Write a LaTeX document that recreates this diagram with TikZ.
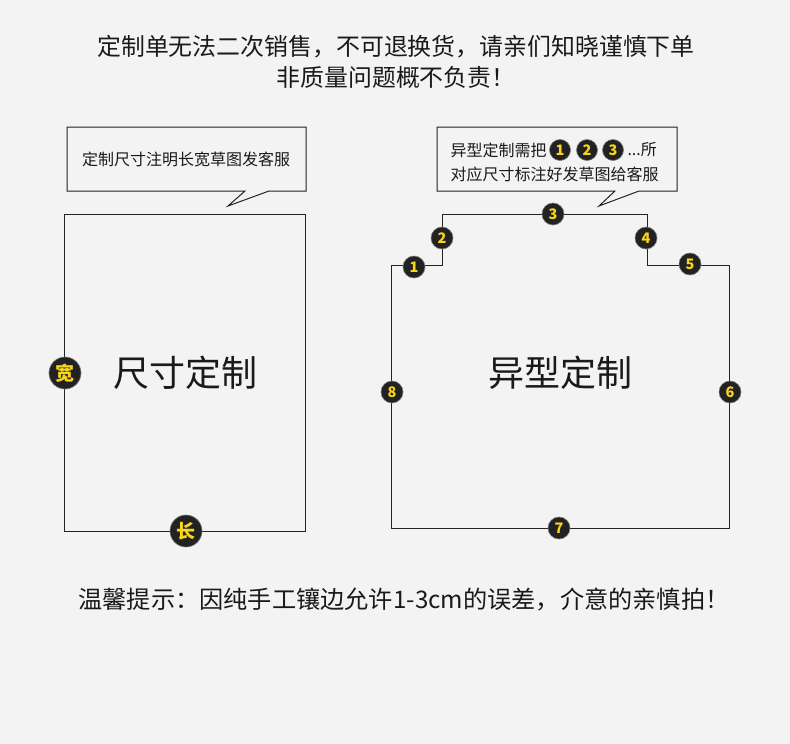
\documentclass[tikz,border=0pt]{standalone}
\usepackage{fontspec}
\setmainfont{Noto Sans CJK SC}
\newfontfamily\cjk{Noto Sans CJK SC}
\definecolor{bg}{HTML}{F3F3F3}
\definecolor{ink}{HTML}{222222}
\definecolor{gold}{HTML}{F7D51D}
\definecolor{txt}{HTML}{1A1A1A}
\begin{document}
\begin{tikzpicture}[x=1pt,y=-1pt,
  frame/.style={draw=ink,line width=1pt},
  badge/.style={circle,fill=ink,draw=ink!60,line width=0.6pt,text=gold,inner sep=0pt,minimum size=#1,font=\cjk\bfseries\fontsize{14.5}{14.5}\selectfont},
  bigbadge/.style={circle,fill=ink,draw=ink!60,line width=0.6pt,text=gold,inner sep=0pt,minimum size=32pt,font=\cjk\bfseries\fontsize{19}{19}\selectfont},
  title/.style={text=txt,font=\cjk\fontsize{23.9}{30}\selectfont,align=center},
  small/.style={text=txt,font=\cjk\fontsize{16}{23}\selectfont,align=left},
  big/.style={text=txt,font=\cjk\fontsize{36}{36}\selectfont}]
\fill[bg] (0,0) rectangle (790,744);
\useasboundingbox (0,0) rectangle (790,744);

% title
\node[title] (t1) at (396,47) {定制单无法二次销售，不可退换货，请亲们知晓谨慎下单};
\node[title] (t2) at (396,77) {非质量问题概不负责！};

% left callout
\draw[frame,fill=bg] (67,127) -- (306,127) -- (306,191) -- (269,191) -- (228,206) -- (245,191) -- (67,191) -- cycle;
\node[small] (c1) at (186,159) {定制尺寸注明长宽草图发客服};

% left rect
\coordinate (la) at (64,214);
\coordinate (lb) at (305,531);
\draw[frame] (la) rectangle (lb);
\node[big] (lt) at (185,373) {尺寸定制};
\node[bigbadge] (kuan) at (65,373) {宽};
\node[bigbadge] (chang) at (186,531) {长};

% right callout
\draw[frame,fill=bg] (437,127) -- (677,127) -- (677,191) -- (639,191) -- (599,206) -- (615,191) -- (437,191) -- cycle;
\node[small,anchor=west] (c2a) at (447,150) {异型定制需把};
\node[badge=21pt] (s1) at (560,150) {1};
\node[badge=21pt] (s2) at (587,150) {2};
\node[badge=21pt] (s3) at (613,150) {3};
\node[small,anchor=west] (c2b) at (624,150) {...所};
\node[small,anchor=west] (c2c) at (447,174) {对应尺寸标注好发草图给客服};

% irregular shape
\coordinate (p1) at (391.5,265);
\coordinate (p2) at (442,265);
\coordinate (p3) at (442,214);
\coordinate (p4) at (647,214);
\coordinate (p5) at (647,265);
\coordinate (p6) at (729,265);
\coordinate (p7) at (729,528);
\coordinate (p8) at (391.5,528);
\draw[frame] (p1) -- (p2) -- (p3) -- (p4) -- (p5) -- (p6) -- (p7) -- (p8) -- cycle;
\node[big] (rt) at (560,373) {异型定制};
\node[badge=22pt] (n1) at (414,267) {1};
\node[badge=22pt] (n2) at (442,238) {2};
\node[badge=22pt] (n3) at (553,214) {3};
\node[badge=22pt] (n4) at (646,238) {4};
\node[badge=22pt] (n5) at (690,264) {5};
\node[badge=22pt] (n6) at (730,392) {6};
\node[badge=22pt] (n7) at (559,528) {7};
\node[badge=22pt] (n8) at (392,392) {8};

% bottom note
\node[title,font=\cjk\fontsize{24.2}{30}\selectfont] (note) at (404,600) {温馨提示：因纯手工镶边允许1-3cm的误差，介意的亲慎拍！};
\end{tikzpicture}
\end{document}
